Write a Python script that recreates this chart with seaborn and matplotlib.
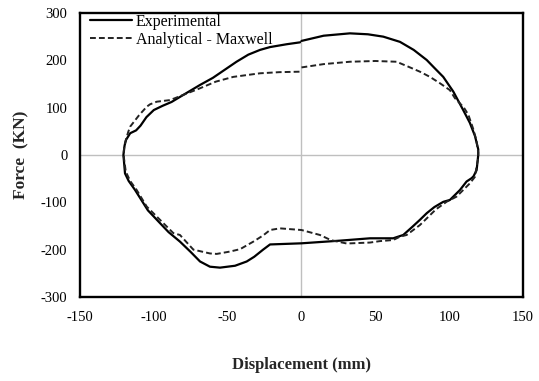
import matplotlib
matplotlib.use("Agg")
import matplotlib.pyplot as plt
import seaborn as sns
import pandas as pd

# Hysteresis loops (clockwise, starting at x = 0 on top)
exp_disp = [0, 15, 32.8, 45, 55.4, 66.7, 76, 84.8, 90, 96, 102.8, 109.5, 114, 117.5,
            119.7, 119.7, 118.6, 116.5, 115.2, 111.8, 107.3, 100.5, 96, 90, 84.8, 80.2,
            75, 68.9, 62.1, 46.4, 26, 0, -21.3, -26, -32, -37.1, -45, -55.2, -62, -68.7,
            -75, -82.3, -90, -95.8, -104, -112.7, -117, -119.5, -120.6, -119.8, -118.8,
            -116, -112, -109, -105, -100, -94, -88, -80, -68.7, -60, -52, -44, -36,
            -28.1, -21.3, -10, -1]
exp_force = [241, 252, 257, 255, 250, 239, 222, 200.7, 184, 165, 134, 95, 68, 40,
             12, 0, -32, -45, -49, -56, -74, -95, -99, -110, -123, -137,
             -152, -169, -176, -176, -181, -186.6, -189, -200, -215, -225, -234, -238, -236, -225,
             -205, -183, -163, -144, -117, -74, -55, -39, 0, 20, 32,
             46, 52, 62, 80, 95, 104, 112, 127, 148, 163, 180, 197, 212,
             222, 228, 234, 238]

ana_disp = [0, 15, 32.8, 50, 64.4, 72, 80.2, 87, 93.8, 100.5, 103.9, 107.3, 110, 113,
            116.3, 118.5, 119.7, 119.5, 118.5, 117.5, 114, 109.5, 105, 98.3, 91, 84.8,
            80.2, 71.2, 66.7, 62.1, 53, 46.4, 30.6, 20, 12.5, 0, -14.6, -21.3, -26,
            -32.6, -41.6, -48.4, -57.4, -62, -73.2, -82.3, -86.8, -95, -104.8, -111.6,
            -116, -119, -120.5, -120, -118.3, -117.3, -116, -113, -110, -104.8, -102.6,
            -98, -89, -80, -68.7, -58, -46.2, -28.1, -15, -1]
ana_force = [185, 192, 197, 198.6, 197, 187, 176, 165, 151.5, 137, 120, 109, 100, 85,
             55, 30, 5, -10, -25, -46, -60, -74, -88, -98.7, -115, -134,
             -148, -169, -172.6, -179.6, -182, -185, -187, -180, -169, -158.5, -155, -158.5, -170,
             -183, -199, -204, -209, -208, -200, -169, -165, -139.5, -109, -74,
             -55, -35, 0, 20, 38.7, 49, 60, 72, 84, 102, 107,
             112.6, 116, 127, 141, 155, 165, 172.6, 175, 176]

x_ticks = [-150, -100, -50, 0, 50, 100, 150]
y_ticks = [-300, -200, -100, 0, 100, 200, 300]

sns.set_theme(style="white")
plt.rcParams['font.family'] = ['Liberation Serif', 'DejaVu Serif']
plt.rcParams['axes.unicode_minus'] = False

exp_df = pd.DataFrame({'disp': exp_disp, 'force': exp_force})
ana_df = pd.DataFrame({'disp': ana_disp, 'force': ana_force})

fig = plt.figure(figsize=(5.39, 3.81), dpi=100)
ax = fig.add_axes([0.1484, 0.2205, 0.8219, 0.7454])

# grey zero lines
ax.axhline(0, color='#bfbfbf', lw=1, zorder=1)
ax.axvline(0, color='#bfbfbf', lw=1, zorder=1)

sns.lineplot(data=exp_df, x='disp', y='force', sort=False, estimator=None,
             color='black', lw=1.6, ax=ax, label='Experimental')
sns.lineplot(data=ana_df, x='disp', y='force', sort=False, estimator=None,
             color='#222222', lw=1.4, ls=(0, (3, 1.6)), ax=ax, label='Analytical - Maxwell')

ax.set_xlim(-150, 150)
ax.set_ylim(-300, 300)
ax.set_xticks(x_ticks)
ax.set_yticks(y_ticks)
ax.tick_params(length=0, labelsize=10.5, colors='black')
ax.tick_params(axis='x', pad=10)
ax.tick_params(axis='y', pad=9)
for s in ax.spines.values():
    s.set_color('black')
    s.set_linewidth(1.7)

ax.set_xlabel('Displacement (mm)', fontsize=12, fontweight='bold', labelpad=24)
ax.set_ylabel('Force  (KN)', fontsize=12.5, fontweight='bold', labelpad=8)

leg = ax.legend(loc='upper left', bbox_to_anchor=(0.012, 1.015), frameon=False,
                fontsize=11.5, handlelength=2.6, handletextpad=0.25,
                labelspacing=0.15, borderpad=0.2, borderaxespad=0.1)
for t in leg.get_texts():
    t.set_color('black')

fig.savefig('out.png', dpi=100)
